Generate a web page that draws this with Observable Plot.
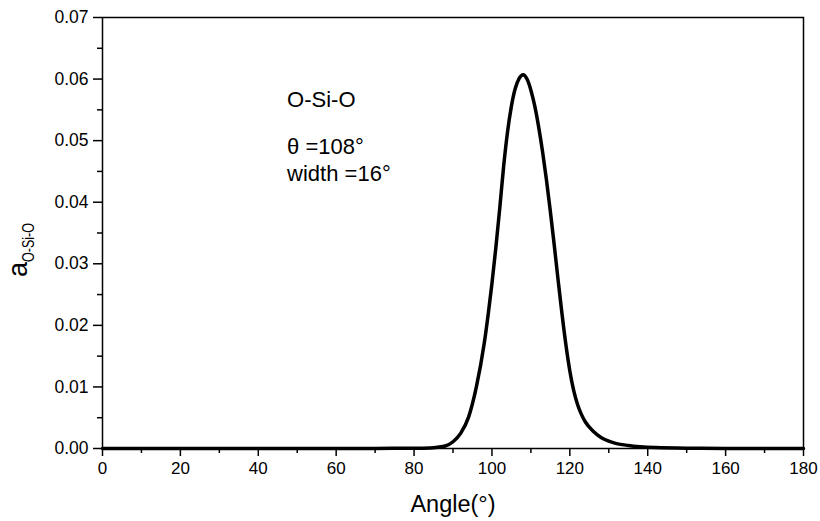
<!DOCTYPE html>
<html>
<head>
<meta charset="utf-8">
<script src="https://cdn.jsdelivr.net/npm/d3@7"></script>
<script src="https://cdn.jsdelivr.net/npm/@observablehq/plot@0.6"></script>
<style>
  html, body { margin: 0; padding: 0; background: #fff; }
  #chart { width: 820px; height: 521px; }
</style>
</head>
<body>
<div id="chart"></div>
<script>
// Angle (degrees) and distribution a_{O-Si-O}
const angles = [0, 20, 40, 60, 70, 80, 84, 86, 88, 90, 92, 94, 96, 98, 99, 100, 101, 102, 103, 104, 105, 106, 107, 108, 109, 110, 111, 112, 113, 114, 115, 116, 117, 118, 119, 120, 121, 122, 123, 124, 126, 128, 130, 132, 135, 138, 142, 150, 160, 170, 180];
const values = [0, 0, 0, 0, 0.00002, 0.00005, 0.0001, 0.0002, 0.0004, 0.0011, 0.0025, 0.0051, 0.0100, 0.0170, 0.0216, 0.0268, 0.0326, 0.0390, 0.0458, 0.0514, 0.0556, 0.0585, 0.0601, 0.0607, 0.0600, 0.0582, 0.0556, 0.0522, 0.0482, 0.0436, 0.0385, 0.0330, 0.0273, 0.0218, 0.0168, 0.0126, 0.0094, 0.0071, 0.0055, 0.0043, 0.0028, 0.0018, 0.0012, 0.0008, 0.0005, 0.0003, 0.00015, 0.00005, 0.00002, 0, 0];

const xMajor = [0, 20, 40, 60, 80, 100, 120, 140, 160, 180];
const xMinor = [10, 30, 50, 70, 90, 110, 130, 150, 170];
const yMajor = [0, 0.01, 0.02, 0.03, 0.04, 0.05, 0.06, 0.07];
const yMinor = [0.005, 0.015, 0.025, 0.035, 0.045, 0.055, 0.065];

const annTitle = ["O-Si-O"];
const annLines = ["θ =108°", "width =16°"];
const xLabel = "Angle(°)";

const data = angles.map((a, i) => ({angle: a, value: values[i]}));

const font = "'Liberation Sans', Arial, sans-serif";

const plot = Plot.plot({
  width: 820,
  height: 521,
  marginLeft: 102,
  marginRight: 17,
  marginTop: 17,
  marginBottom: 73,
  style: {fontFamily: font, fontSize: "17px", background: "#fff", color: "#000", overflow: "visible"},
  x: {domain: [0, 180]},
  y: {domain: [0, 0.07]},
  marks: [
    Plot.axisX({ticks: xMajor, tickSize: 8, tickPadding: 5, fontSize: 17, label: null, tickFormat: d => String(d), strokeWidth: 1.5}),
    Plot.axisX({ticks: xMinor, tickSize: 5, tickFormat: () => "", label: null, strokeWidth: 1.5}),
    Plot.axisY({ticks: yMajor, tickSize: 9, tickPadding: 5, fontSize: 17.5, label: null, tickFormat: d3.format(".2f"), strokeWidth: 1.5}),
    Plot.axisY({ticks: yMinor, tickSize: 5, tickFormat: () => "", label: null, strokeWidth: 1.5}),
    Plot.line(data, {x: "angle", y: "value", stroke: "#000", strokeWidth: 3.5, curve: "monotone-x"}),
    Plot.frame({stroke: "#000", strokeWidth: 1.5}),
    Plot.text(annTitle, {x: 47.4, y: 0.0554, text: d => d, textAnchor: "start", lineAnchor: "bottom", fontSize: 22}),
    Plot.text(annLines, {x: 47.4, y: (d, i) => 0.0479 - i * 0.0044, text: d => d, textAnchor: "start", lineAnchor: "bottom", fontSize: 22}),
    Plot.text([xLabel], {frameAnchor: "bottom", dy: 56, text: d => d, fontSize: 23.5, lineAnchor: "middle"})
  ]
});

// y-axis label with subscript
const svg = d3.select(plot);
const yl = svg.append("text")
  .attr("transform", "translate(27,277) rotate(-90)")
  .attr("text-anchor", "start")
  .attr("font-family", font)
  .attr("fill", "#000");
yl.append("tspan").attr("font-size", 27).text("a");
yl.append("tspan").attr("font-size", 17).attr("dy", 7)
  .attr("textLength", 39).attr("lengthAdjust", "spacingAndGlyphs").text("O-Si-O");

document.getElementById("chart").appendChild(plot);
</script>
</body>
</html>
